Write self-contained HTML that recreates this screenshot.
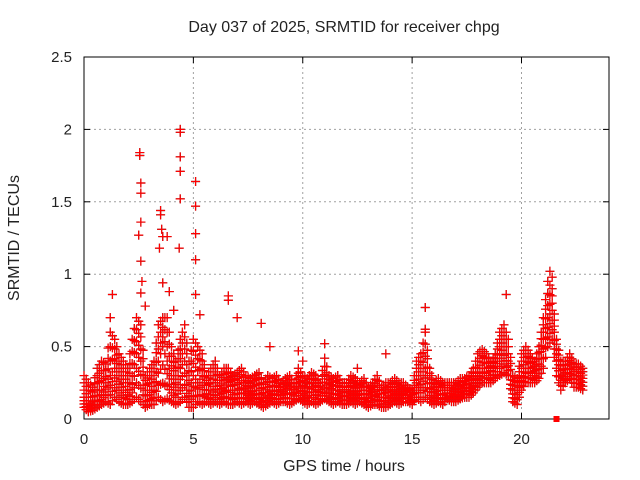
<!DOCTYPE html>
<html><head><meta charset="utf-8"><style>
body{margin:0;background:#fff;}
svg{display:block;font-family:"Liberation Sans",sans-serif;}
</style></head><body>
<svg id="chart" width="640" height="480">
<rect width="640" height="480" fill="#fff"/>
<text x="344" y="32" font-size="16" text-anchor="middle" fill="#222">Day 037 of 2025, SRMTID for receiver chpg</text>
<text x="344" y="471" font-size="16" text-anchor="middle" fill="#222">GPS time / hours</text>
<text transform="translate(19,238) rotate(-90)" font-size="16" text-anchor="middle" fill="#222">SRMTID / TECUs</text>
<g id="grid"></g>
<g id="axes"></g>
<g id="marks"></g>
</svg>
<script>
const times=[0,0.2,0.4,0.6,0.8,1,1.2,1.4,1.6,1.8,2,2.2,2.4,2.6,2.8,3,3.2,3.4,3.6,3.8,4,4.2,4.4,4.6,4.8,5,5.2,5.4,5.6,5.8,6,6.2,6.4,6.6,6.8,7,7.2,7.4,7.6,7.8,8,8.2,8.4,8.6,8.8,9,9.2,9.4,9.6,9.8,10,10.2,10.4,10.6,10.8,11,11.2,11.4,11.6,11.8,12,12.2,12.4,12.6,12.8,13,13.2,13.4,13.6,13.8,14,14.2,14.4,14.6,14.8,15,15.2,15.4,15.6,15.8,16,16.2,16.4,16.6,16.8,17,17.2,17.4,17.6,17.8,18,18.2,18.4,18.6,18.8,19,19.2,19.4,19.6,19.8,20,20.2,20.4,20.6,20.8,21,21.2,21.4,21.6,21.8,22,22.2,22.4,22.6,22.8];
const lowVals=[0.08,0.05,0.06,0.08,0.1,0.12,0.1,0.15,0.12,0.1,0.1,0.12,0.15,0.12,0.08,0.1,0.1,0.15,0.12,0.14,0.12,0.1,0.12,0.15,0.08,0.08,0.12,0.1,0.12,0.1,0.12,0.1,0.12,0.1,0.1,0.12,0.1,0.12,0.1,0.12,0.1,0.08,0.1,0.12,0.1,0.12,0.12,0.1,0.12,0.14,0.12,0.1,0.12,0.1,0.12,0.14,0.12,0.1,0.12,0.1,0.1,0.12,0.1,0.12,0.1,0.08,0.1,0.1,0.08,0.08,0.1,0.12,0.1,0.12,0.12,0.1,0.15,0.12,0.15,0.12,0.1,0.12,0.1,0.14,0.12,0.12,0.14,0.15,0.15,0.18,0.22,0.25,0.25,0.25,0.28,0.3,0.32,0.3,0.12,0.1,0.2,0.25,0.25,0.25,0.28,0.35,0.5,0.55,0.3,0.2,0.25,0.28,0.22,0.22,0.2];
const midVals=[0.15,0.1,0.12,0.2,0.2,0.25,0.3,0.35,0.3,0.25,0.2,0.3,0.45,0.4,0.2,0.2,0.25,0.4,0.5,0.4,0.3,0.25,0.35,0.4,0.2,0.3,0.25,0.3,0.2,0.2,0.25,0.2,0.22,0.25,0.2,0.2,0.22,0.2,0.18,0.2,0.2,0.15,0.18,0.2,0.2,0.18,0.2,0.22,0.18,0.25,0.2,0.18,0.25,0.2,0.18,0.25,0.22,0.2,0.2,0.18,0.18,0.2,0.18,0.2,0.2,0.15,0.18,0.2,0.15,0.15,0.18,0.2,0.18,0.2,0.18,0.15,0.25,0.3,0.35,0.25,0.18,0.2,0.2,0.2,0.2,0.18,0.2,0.22,0.22,0.25,0.3,0.35,0.35,0.3,0.35,0.45,0.5,0.4,0.2,0.2,0.3,0.35,0.35,0.3,0.38,0.55,0.7,0.75,0.45,0.3,0.32,0.38,0.3,0.3,0.28];
const highVals=[0.3,0.25,0.22,0.35,0.4,0.38,0.6,0.55,0.45,0.4,0.35,0.55,0.7,0.65,0.3,0.35,0.4,0.65,0.7,0.7,0.5,0.4,0.55,0.65,0.4,0.55,0.5,0.45,0.3,0.35,0.4,0.3,0.35,0.35,0.3,0.32,0.35,0.3,0.28,0.3,0.32,0.25,0.3,0.28,0.3,0.25,0.28,0.3,0.25,0.35,0.3,0.28,0.32,0.3,0.25,0.42,0.3,0.28,0.3,0.25,0.25,0.3,0.28,0.25,0.28,0.22,0.25,0.3,0.22,0.25,0.25,0.28,0.25,0.25,0.22,0.2,0.4,0.45,0.6,0.35,0.25,0.28,0.25,0.25,0.25,0.25,0.28,0.28,0.3,0.35,0.45,0.48,0.45,0.4,0.45,0.6,0.65,0.55,0.3,0.28,0.45,0.5,0.45,0.4,0.5,0.7,0.95,0.9,0.55,0.4,0.4,0.45,0.38,0.38,0.35];
const spikeTimes=[2.55,2.55,2.6,2.6,2.6,2.5,2.6,2.65,2.6,2.8,1.3,3.5,3.5,3.55,3.45,3.6,3.8,4.4,4.4,4.4,4.4,4.4,4.35,5.1,5.1,5.1,5.1,5.1,6.6,6.6,8.1,8.5,11,13.8,15.6,15.6,19.3,21.3,21.4,3.6,3.9,1.2,4.1,5.3,7,9.8,10,12.5];
const spikeVals=[1.84,1.82,1.56,1.63,1.36,1.27,1.09,0.95,0.87,0.78,0.86,1.44,1.41,1.31,1.18,1.26,1.26,2.0,1.98,1.81,1.71,1.52,1.18,1.64,1.47,1.28,1.1,0.86,0.85,0.82,0.66,0.5,0.52,0.45,0.77,0.62,0.86,1.02,0.98,0.94,0.88,0.7,0.75,0.72,0.7,0.47,0.4,0.35];
const xTicks=[0,5,10,15,20];
const yTicks=[0,0.5,1,1.5,2,2.5];
const yTickLabels=["0","0.5","1","1.5","2","2.5"];
const flagTime=[21.6];

const X0=84,X1=609,Y0=419,Y1=57,XMAX=24,YMAX=2.5;
const sx=v=>X0+v/XMAX*(X1-X0);
const sy=v=>Y0-v/YMAX*(Y0-Y1);
const NS="http://www.w3.org/2000/svg";
function mk(tag,attrs,parent){const e=document.createElementNS(NS,tag);for(const k in attrs)e.setAttribute(k,attrs[k]);parent.appendChild(e);return e;}
const grid=document.getElementById('grid'),axes=document.getElementById('axes'),marks=document.getElementById('marks');

yTicks.forEach((v,i)=>{
  if(v>0&&v<YMAX){const g=mk('line',{x1:X0,x2:X1,y1:sy(v),y2:sy(v),stroke:'#a0a0a0','stroke-dasharray':'2,3'},grid);
  
  }
  mk('line',{x1:X0,x2:X0+6,y1:sy(v),y2:sy(v),stroke:'#000'},axes);
  mk('line',{x1:X1,x2:X1-6,y1:sy(v),y2:sy(v),stroke:'#000'},axes);
  const t=mk('text',{x:X0-12,y:sy(v)+5,'font-size':15,'text-anchor':'end',fill:'#222'},axes);
  t.textContent=yTickLabels[i];
  
  
});
xTicks.forEach(v=>{
  if(v>0){const g=mk('line',{x1:sx(v),x2:sx(v),y1:Y0,y2:Y1,stroke:'#a0a0a0','stroke-dasharray':'2,3'},grid);
  
  }
  mk('line',{x1:sx(v),x2:sx(v),y1:Y0,y2:Y0-6,stroke:'#000'},axes);
  mk('line',{x1:sx(v),x2:sx(v),y1:Y1,y2:Y1+6,stroke:'#000'},axes);
  const t=mk('text',{x:sx(v),y:Y0+25,'font-size':15,'text-anchor':'middle',fill:'#222'},axes);
  t.textContent=String(v);
  
  
});
const box=mk('rect',{x:X0,y:Y1,width:X1-X0,height:Y0-Y1,fill:'none',stroke:'#000','stroke-width':1},axes);



function plus(t,v,color){
  const x=sx(t),y=sy(v);
  const p=mk('path',{d:`M${x-4.5},${y}H${x+4.5}M${x},${y-4.5}V${y+4.5}`,stroke:color,'stroke-width':1.2,fill:'none'},marks);
  
  
}
function column(t,lo,mi,hi,color){
  [lo,(lo*2+mi)/3,(lo+mi*2)/3,mi,(mi*2+hi)/3,(mi+hi*2)/3,hi].forEach(v=>plus(t,v,color));
}
['#222','#ff0000'].forEach(color=>{
  times.forEach((t,i)=>{
    column(t,lowVals[i],midVals[i],highVals[i],color);
    if(i<times.length-1){
      const k=i+1;
      column((t+times[k])/2,(lowVals[i]+lowVals[k])/2,(midVals[i]+midVals[k])/2,(highVals[i]+highVals[k])/2,color);
    }
  });
  spikeVals.forEach((v,i)=>plus(spikeTimes[i],v,color));
});
flagTime.forEach(t=>{
  const r=mk('rect',{x:sx(t)-3,y:Y0-3,width:6,height:6,fill:'#ff0000'},marks);
  
  
});
</script>
</body></html>
